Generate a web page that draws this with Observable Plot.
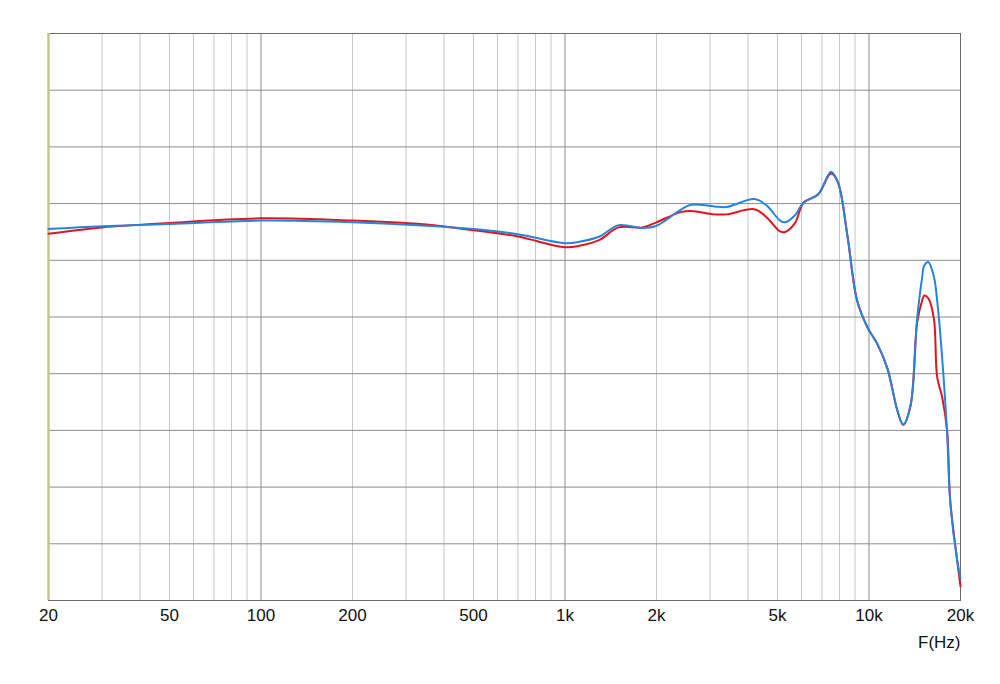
<!DOCTYPE html>
<html>
<head>
<meta charset="utf-8">
<script src="https://cdn.jsdelivr.net/npm/d3@7"></script>
<script src="https://cdn.jsdelivr.net/npm/@observablehq/plot@0.6"></script>
<style>
  html, body { margin: 0; padding: 0; background: #fff; }
  #chart svg { display: block; }
</style>
</head>
<body>
<div id="chart"></div>
<script>
// Frequencies (Hz)
const freq = [20, 30, 50, 100, 200, 350, 500, 700, 1000, 1125, 1300, 1500, 1800, 2000, 2400, 2600, 3100, 3400, 4200, 4600, 5100, 5300, 5700, 6100, 6800, 7500, 7900, 8500, 9140, 9900, 10640, 11500, 12400, 12950, 13700, 14400, 14960, 15200, 15670, 16350, 16760, 17400, 18070, 18500, 19500, 20000];
// Blue channel level
const blue = [65.5, 66.0, 66.4, 67.0, 66.7, 66.1, 65.5, 64.6, 63.0, 63.3, 64.2, 66.2, 65.7, 66.1, 68.9, 69.8, 69.5, 69.4, 70.8, 69.7, 67.0, 66.7, 67.9, 70.2, 71.6, 75.6, 73.8, 64.2, 52.9, 48.1, 45.3, 40.9, 33.5, 31.0, 34.4, 49.7, 57.0, 59.1, 59.7, 57.1, 52.9, 42.9, 29.5, 17.6, 7.1, 3.9];
// Red channel level
const red = [64.7, 65.8, 66.6, 67.4, 67.0, 66.3, 65.3, 64.2, 62.3, 62.6, 63.6, 65.8, 65.8, 66.7, 68.5, 68.7, 68.1, 68.1, 69.0, 67.6, 65.1, 65.0, 66.5, 70.2, 71.6, 75.3, 73.8, 64.2, 52.9, 48.1, 45.3, 40.9, 33.5, 31.0, 34.4, 49.0, 52.9, 53.8, 53.3, 49.7, 39.4, 35.9, 30.0, 17.6, 7.1, 2.5];

const tickValues = [20, 50, 100, 200, 500, 1000, 2000, 5000, 10000, 20000];
const tickLabels = ["20", "50", "100", "200", "500", "1k", "2k", "5k", "10k", "20k"];
const majorGrid = [100, 1000, 10000];
const minorGrid = [30, 40, 50, 60, 70, 80, 90, 200, 300, 400, 500, 600, 700, 800, 900, 2000, 3000, 4000, 5000, 6000, 7000, 8000, 9000];
const yGrid = [10, 20, 30, 40, 50, 60, 70, 80, 90];
const axisTitle = "F(Hz)";

const redData = freq.map((f, i) => ({f, v: red[i]}));
const blueData = freq.map((f, i) => ({f, v: blue[i]}));
const tickData = tickValues.map((f, i) => ({f, label: tickLabels[i]}));

const chart = Plot.plot({
  width: 1000,
  height: 684,
  marginLeft: 48,
  marginRight: 40,
  marginTop: 33,
  marginBottom: 84,
  style: {fontFamily: "'Liberation Sans', Arial, sans-serif", fontSize: "17px", background: "#fff"},
  x: {type: "log", domain: [20, 20000], axis: null},
  y: {domain: [0, 100], axis: null},
  marks: [
    Plot.ruleX(minorGrid, {stroke: "#c8c8c8", strokeWidth: 1}),
    Plot.ruleX(majorGrid, {stroke: "#8c8c8c", strokeWidth: 1}),
    Plot.ruleY(yGrid, {stroke: "#8c8c8c", strokeWidth: 1}),
    Plot.frame({stroke: "#6a6a6a", strokeWidth: 1}),
    Plot.ruleX([20], {stroke: "#c4c48c", strokeWidth: 2.5}),
    Plot.line(redData, {x: "f", y: "v", stroke: "#e3141b", strokeWidth: 2, curve: "catmull-rom"}),
    Plot.line(blueData, {x: "f", y: "v", stroke: "#2585db", strokeWidth: 2, curve: "catmull-rom"}),
    Plot.text(tickData, {x: "f", text: "label", frameAnchor: "bottom", dy: 20.5, fill: "#111", fontSize: 17}),
    Plot.text([axisTitle], {x: 20000, text: (d) => d, frameAnchor: "bottom", dy: 47, textAnchor: "end", fill: "#111", fontSize: 17})
  ]
});
document.getElementById("chart").appendChild(chart);
</script>
</body>
</html>
